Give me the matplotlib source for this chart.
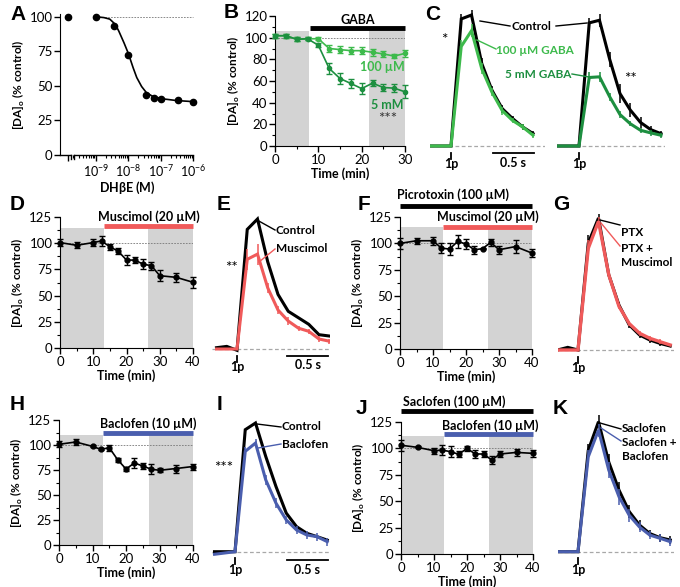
import numpy as np
import matplotlib.pyplot as plt
from matplotlib.lines import Line2D
from matplotlib.ticker import MultipleLocator, FixedLocator, NullFormatter

plt.rcParams['font.family'] = ['Lato', 'DejaVu Sans']
plt.rcParams['mathtext.fontset'] = 'custom'
plt.rcParams['mathtext.rm'] = 'Lato'
plt.rcParams['mathtext.bf'] = 'Lato:bold'
plt.rcParams['font.size'] = 8.5

# ---------------- data ----------------
# A: DHbE concentration-response (log10 M)
a_logx = [-9.86, -9.0, -8.45, -8.0, -7.46, -7.22, -7.0, -6.48, -6.0]
a_y = [100, 99.5, 93, 72, 43.5, 41, 40.5, 39.5, 38]
a_fit_x = [-9.0, -8.75, -8.57, -8.4, -8.29, -8.13, -8.0, -7.85, -7.74, -7.59,
           -7.44, -7.24, -6.93, -6.52, -6.0]
a_fit_y = [100, 99.4, 98.3, 94.5, 89.5, 81, 73.5, 63, 56, 49.5,
           45, 42.3, 40.6, 39.4, 38.6]

# B: GABA time course
b_t = [0, 2.5, 5, 7.5, 10, 12.5, 15, 17.5, 20, 22.5, 25, 27.5, 30]
b_100 = [101.8, 101.8, 98.5, 99, 99, 90, 89, 88, 88, 86.5, 85, 83, 85.5]
b_100_err = [2, 2, 2, 1.5, 1.5, 3, 3, 3, 3, 3, 3, 2, 3]
b_5 = [101.8, 101.8, 98.5, 99, 93, 71.6, 62.3, 57.7, 53, 58, 54, 53.4, 50]
b_5_err = [2, 2, 2, 1.5, 2, 5, 5, 4, 5, 3, 3, 4, 6]

# C: evoked transients (% of control peak), 0.125 s samples
c_t = [-0.25, -0.125, 0, 0.125, 0.25, 0.375, 0.5, 0.625, 0.75, 0.875, 1.0]
c1_ctrl = [0, 0, 0, 97, 100, 63, 42.5, 28.5, 21, 14.5, 9.5]
c1_gaba = [0, 0, 0, 76, 88, 59, 41, 27, 19.5, 14.5, 8.2]
c2_ctrl = [0, 0, 0, 94, 96, 66, 40, 27.5, 18, 12.5, 9.4]
c2_gaba = [0, 0, 0, 52.3, 52.8, 37.5, 24, 17, 12, 10, 8.2]
c1_ctrl_err = [0, 0, 0, 4, 4, 4, 3, 3, 2, 2, 2]
c1_gaba_err = [0, 0, 0, 5, 5, 4, 3, 3, 2, 2, 2]
c2_ctrl_err = [0, 0, 0, 4, 5, 6, 7, 5, 4, 3, 2]
c2_gaba_err = [0, 0, 0, 4, 4, 3, 3, 2, 2, 2, 2]

# D, F, H, J: time courses
tc_t = [0, 5, 10, 12.5, 15, 17.5, 20, 22.5, 25, 27.5, 30, 35, 40]
d_y = [100.6, 98, 100.6, 102.2, 96.5, 92.4, 83.9, 83.9, 80, 78.5, 69, 67.4, 62.7]
d_err = [3, 3, 3, 5, 3, 3, 5, 3, 5, 4, 5, 4, 5]
f_y = [100, 102.5, 102.5, 95.6, 94.6, 101.9, 99.4, 94, 95, 101, 94, 97, 90.8]
f_err = [5, 3, 4, 5, 6, 6, 5, 4, 0.5, 3, 4, 6, 4]
h_y = [100.7, 103, 98.6, 95.6, 97.3, 85.3, 76, 82, 79, 75.8, 74.7, 76.5, 78.5]
h_err = [3, 3, 1, 1, 3, 2, 2, 5, 3, 5, 2, 4, 3]
j_y = [103, 101, 97.8, 98.4, 96.9, 94.4, 100, 94.7, 94.7, 89, 94.7, 96.2, 95.3]
j_err = [5, 1, 3, 5, 5, 3, 2, 4, 3, 4, 3, 3, 3]

# E, G, I, K: evoked transients
tr_t = [-0.25, -0.125, 0, 0.125, 0.25, 0.375, 0.5, 0.625, 0.75, 0.875, 1.0, 1.125]
e_ctrl = [1, 2, -1, 92, 100, 67, 42, 29, 24, 19, 11, 10]
e_musc = [0, 0, 0, 69, 73, 47, 30, 21.5, 16, 13.6, 7.7, 6]
e_musc_err = [0, 0, 0, 8, 8, 4, 3, 3, 2, 2, 2, 2]
g_ptx = [0, 2, 0, 81, 100, 57, 34, 19, 11.4, 7.6, 5, 3]
g_musc = [0, 0, 0, 77, 97.5, 57, 33, 20, 12.7, 8.9, 6.3, 3.8]
g_err = [0, 0, 0, 6, 3, 3, 2, 2, 2, 2, 2, 1]
i_ctrl = [0, 0, 0, 94.8, 100, 74, 50.6, 30, 19.5, 14.3, 11.7, 9]
i_bac = [-2, -1, 0, 78, 84.4, 55.8, 37.7, 24.7, 16.9, 13, 11.7, 7.8]
i_err = [0, 0, 0, 3, 3, 4, 4, 3, 3, 3, 3, 3]
k_sac = [0, 0, 0, 78, 100, 69, 47.4, 30.8, 20.5, 14, 10.8, 9]
k_bac = [0, 0, 0, 73, 93.6, 62.8, 42.3, 28, 19, 12.8, 10.3, 7.7]
k_err = [0, 0, 0, 5, 5, 6, 6, 5, 4, 3, 3, 3]

GREEN_L = '#3dba4c'
GREEN_D = '#1d8f40'
RED = '#f05a5a'
BLUE = '#4a5eae'
SHADE = '#d3d3d3'

W, H = 680, 587
fig = plt.figure(figsize=(6.8, 5.87), dpi=100)


def rect(x0, y0, x1, y1):
    return [x0 / W, 1 - y1 / H, (x1 - x0) / W, (y1 - y0) / H]


def ftext(x, y, s, **kw):
    kw.setdefault('ha', 'left')
    kw.setdefault('va', 'center')
    kw.setdefault('fontweight', 'bold')
    fig.text(x / W, 1 - y / H, s, **kw)


def fline(x0, y0, x1, y1, color='k', lw=1.0):
    fig.add_artist(Line2D([x0 / W, x1 / W], [1 - y0 / H, 1 - y1 / H],
                          color=color, lw=lw))


def letter(x, y, s):
    fig.text(x / W, 1 - y / H, s, fontsize=15, fontweight='bold',
             family='Liberation Sans', ha='left', va='center')


def style_axes(ax):
    for sp in ['top', 'right']:
        ax.spines[sp].set_visible(False)
    ax.tick_params(direction='out', length=4, width=1, labelsize=9.5, pad=1.5)
    ax.tick_params(which='minor', length=2, width=0.8)
    ax.set_ylabel(r'[DA]$_\mathbf{o}$ (% control)', fontweight='bold',
                  fontsize=8.5, labelpad=2)


def tc_axes(x0, x1, ytop, ybot, xmax, ymax, ymaj, ymin):
    ax = fig.add_axes(rect(x0, ytop, x1, ybot))
    ax.set_xlim(0, xmax)
    ax.set_ylim(0, ymax)
    style_axes(ax)
    ax.xaxis.set_major_locator(MultipleLocator(10))
    ax.xaxis.set_minor_locator(MultipleLocator(5))
    ax.yaxis.set_major_locator(MultipleLocator(ymaj))
    ax.yaxis.set_minor_locator(MultipleLocator(ymin))
    ax.set_xlabel('Time (min)', fontweight='bold', fontsize=9, labelpad=1)
    ax.axhline(100, color='#777777', lw=0.6, ls=(0, (2, 1.5)), zorder=1)
    return ax


def tc_series(ax, t, y, e, color, ms=3.5):
    ax.errorbar(t, y, yerr=e, color=color, lw=1.2, marker='o', ms=ms,
                elinewidth=1, capsize=2, capthick=1, clip_on=False, zorder=4)


def drug_bar(ax, x0, x1, y, color, label, ytext, xtext):
    ax.plot([x0, x1], [y, y], color=color, lw=3.5, clip_on=False,
            solid_capstyle='butt', zorder=5)
    ax.text(xtext, ytext, label, ha='center', va='center', fontweight='bold',
            fontsize=9, clip_on=False)


SPS = 82.0  # px per second in trace panels


def trace_ax(x_left, x_right, stim_px, base_px, peak_px):
    top, bot = peak_px - 12, base_px + 28
    ax = fig.add_axes(rect(x_left, top, x_right, bot))
    s = (base_px - peak_px) / 100.0
    ax.set_xlim((x_left - stim_px) / SPS, (x_right - stim_px) / SPS)
    ax.set_ylim(-(bot - base_px) / s, (base_px - top) / s)
    ax.axis('off')
    ax.axhline(0, color='#a8a8a8', lw=0.9, ls=(0, (3, 2)), zorder=0)
    ax.plot([0, 0], [-6.5 / s, -12.5 / s], color='k', lw=1.3, clip_on=False)
    ax.text(0, -18 / s, '1p', ha='center', va='center', fontweight='bold',
            fontsize=9)
    return ax, s


def trace(ax, t, y, e, color, lw=2.2, z=3):
    ax.plot(t, y, color=color, lw=lw, zorder=z, solid_joinstyle='miter')
    ax.errorbar(t[3:], y[3:], yerr=e[3:], fmt='none', ecolor=color,
                elinewidth=1.1, capsize=0, zorder=z)


def scalebar(ax, s, t0, yoff_px, ytext_px):
    ax.plot([t0, t0 + 0.5], [-yoff_px / s] * 2, color='k', lw=1.3,
            clip_on=False)
    ax.text(t0 + 0.25, -ytext_px / s, '0.5 s', ha='center', va='center',
            fontweight='bold', fontsize=9)


# ---------------- A ----------------
axA = fig.add_axes(rect(60, 14, 195, 155))
axA.set_xlim(-10.1, -5.95)
axA.set_ylim(0, 102)
style_axes(axA)
axA.spines['bottom'].set_visible(False)
axA.yaxis.set_major_locator(MultipleLocator(25))
axA.xaxis.set_major_locator(FixedLocator([-9.86, -9, -8, -7, -6]))
axA.set_xticklabels(['', r'$10^{-9}$', r'$10^{-8}$', r'$10^{-7}$', r'$10^{-6}$'],
                    fontsize=9)
minors = [np.log10(k) + n for n in range(-10, -6) for k in range(2, 10)]
minors = [m for m in minors if -9.72 <= m <= -6.0]
axA.xaxis.set_minor_locator(FixedLocator(minors))
axA.xaxis.set_minor_formatter(NullFormatter())
tr = axA.get_xaxis_transform()
axA.plot([-10.1, -9.76], [0, 0], color='k', lw=1, transform=tr, clip_on=False)
axA.plot([-9.66, -6.0], [0, 0], color='k', lw=1, transform=tr, clip_on=False)
axA.plot([-9.76, -9.76], [0, -0.03], color='k', lw=1, transform=tr, clip_on=False)
axA.plot([-9.66, -9.66], [0, -0.03], color='k', lw=1, transform=tr, clip_on=False)
axA.plot([-9.0, -6.0], [100, 100], color='#777777', lw=0.6, ls=(0, (2, 1.5)))
axA.plot(a_fit_x, a_fit_y, color='k', lw=1.2)
axA.plot(a_logx, a_y, 'o', color='k', ms=4.5, clip_on=False)
axA.set_xlabel(r'DH$\mathbf{\beta}$E (M)', fontweight='bold', fontsize=9, labelpad=1)
letter(10, 15, 'A')

# ---------------- B ----------------
axB = tc_axes(275, 405, 16, 146, 30, 120, 20, 10)
axB.axvspan(0, 7.9, ymax=106 / 120, color=SHADE, lw=0, zorder=0)
axB.axvspan(21.7, 30, ymax=106 / 120, color=SHADE, lw=0, zorder=0)
tc_series(axB, b_t, b_100, b_100_err, GREEN_L, ms=3)
tc_series(axB, b_t, b_5, b_5_err, GREEN_D, ms=3)
drug_bar(axB, 8, 30, 108.7, 'k', 'GABA', 116.5, 19)
axB.text(30, 73, '100 µM', color=GREEN_L, ha='right', va='center',
         fontweight='bold', fontsize=9)
axB.text(29.6, 38, '5 mM', color=GREEN_D, ha='right', va='center',
         fontweight='bold', fontsize=9)
axB.text(26, 25, '***', color='#333333', ha='center', va='center', fontsize=11)
letter(224, 13, 'B')

# ---------------- C ----------------
axC1, sC = trace_ax(430, 545, 451, 146, 15)
trace(axC1, c_t, c1_ctrl, c1_ctrl_err, 'k')
trace(axC1, c_t, c1_gaba, c1_gaba_err, GREEN_L)
scalebar(axC1, sC, 0.51, 6.7, 17)
axC2, _ = trace_ax(557, 665, 579, 146, 15)
trace(axC2, c_t, c2_ctrl, c2_ctrl_err, 'k')
trace(axC2, c_t, c2_gaba, c2_gaba_err, GREEN_D)
ftext(512, 26, 'Control')
fline(480, 21, 510, 26)
fline(556, 26, 587, 23)
ftext(496, 50, '100 µM GABA', color=GREEN_L)
fline(477, 40, 496, 49, color=GREEN_L)
ftext(505, 74, '5 mM GABA', color=GREEN_D)
fline(572, 74, 589, 77, color=GREEN_D)
ftext(444, 40, '*', ha='center', fontweight='normal', fontsize=11)
ftext(630, 79, '**', ha='center', fontweight='normal', fontsize=11)
letter(425, 15, 'C')

# ---------------- D ----------------
axD = tc_axes(60, 193, 217, 348, 40, 125, 25, 12.5)
axD.axvspan(0, 13.2, ymax=114.5 / 125, color=SHADE, lw=0, zorder=0)
axD.axvspan(26.6, 40, ymax=114.5 / 125, color=SHADE, lw=0, zorder=0)
tc_series(axD, tc_t, d_y, d_err, 'k')
drug_bar(axD, 13.2, 40, 116, RED, 'Muscimol (20 µM)', 125, 26.6)
letter(10, 205, 'D')

# ---------------- E ----------------
axE, sE = trace_ax(212, 330, 237, 349, 219)
trace(axE, tr_t, e_ctrl, [0] * 12, 'k')
trace(axE, tr_t, e_musc, e_musc_err, RED)
scalebar(axE, sE, 0.61, 6.7, 16)
ftext(276, 230, 'Control')
fline(257, 220, 275, 230)
ftext(276, 248, 'Muscimol')
fline(259, 262, 275, 249, color=RED)
ftext(231, 268, '**', ha='center', fontweight='normal', fontsize=11)
letter(217, 205, 'E')

# ---------------- F ----------------
axF = tc_axes(400, 532, 217, 349, 40, 125, 25, 12.5)
axF.axvspan(0, 13, ymax=116 / 125, color=SHADE, lw=0, zorder=0)
axF.axvspan(26.7, 40, ymax=116 / 125, color=SHADE, lw=0, zorder=0)
tc_series(axF, tc_t, f_y, f_err, 'k')
drug_bar(axF, 13, 40, 116, RED, 'Muscimol (20 µM)', 125.5, 26.5)
drug_bar(axF, 0, 40, 135.6, 'k', 'Picrotoxin (100 µM)', 146, 16)
letter(358, 205, 'F')

# ---------------- G ----------------
axG, sG = trace_ax(558, 674, 578, 350, 218)
trace(axG, tr_t, g_ptx, g_err, 'k')
trace(axG, tr_t, g_musc, g_err, RED, lw=2.4)
ftext(621, 232, 'PTX')
fline(600, 220, 620, 225)
ftext(621, 248, 'PTX +')
ftext(621, 262, 'Muscimol')
fline(601, 223, 620, 246, color=RED)
letter(553, 205, 'G')

# ---------------- H ----------------
axH = tc_axes(59, 193, 420, 545, 40, 125, 25, 12.5)
axH.axvspan(0, 13, ymax=110 / 125, color=SHADE, lw=0, zorder=0)
axH.axvspan(27, 40, ymax=110 / 125, color=SHADE, lw=0, zorder=0)
tc_series(axH, tc_t, h_y, h_err, 'k')
drug_bar(axH, 13, 40, 112, BLUE, 'Baclofen (10 µM)', 121, 26.5)
letter(10, 405, 'H')

# ---------------- I ----------------
axI, sI = trace_ax(212, 330, 235, 551.7, 423)
trace(axI, tr_t, i_ctrl, [0] * 12, 'k')
trace(axI, tr_t, i_bac, i_err, BLUE)
scalebar(axI, sI, 0.63, 8.3, 18)
ftext(282, 427, 'Control')
fline(257, 424, 281, 427)
ftext(282, 444, 'Baclofen')
fline(258, 448, 281, 444, color=BLUE)
ftext(224, 468, '***', ha='center', fontweight='normal', fontsize=11)
letter(217, 405, 'I')

# ---------------- J ----------------
axJ = tc_axes(401, 533, 422, 554, 40, 125, 25, 12.5)
axJ.axvspan(0, 13, ymax=112 / 125, color=SHADE, lw=0, zorder=0)
axJ.axvspan(26.7, 40, ymax=112 / 125, color=SHADE, lw=0, zorder=0)
tc_series(axJ, tc_t, j_y, j_err, 'k')
drug_bar(axJ, 13, 40, 113.6, BLUE, 'Baclofen (10 µM)', 122, 27)
drug_bar(axJ, 0, 40, 135, 'k', 'Saclofen (100 µM)', 144, 16)
letter(356, 408, 'J')

# ---------------- K ----------------
axK, sK = trace_ax(558, 674, 578, 551.7, 421.7)
trace(axK, tr_t, k_sac, k_err, 'k')
trace(axK, tr_t, k_bac, k_err, BLUE)
ftext(622, 429, 'Saclofen')
fline(600, 423, 621, 429)
ftext(622, 443, 'Saclofen +')
ftext(622, 456, 'Baclofen')
fline(601, 428, 621, 441, color=BLUE)
letter(553, 408, 'K')

fig.savefig('out.png', dpi=100)
